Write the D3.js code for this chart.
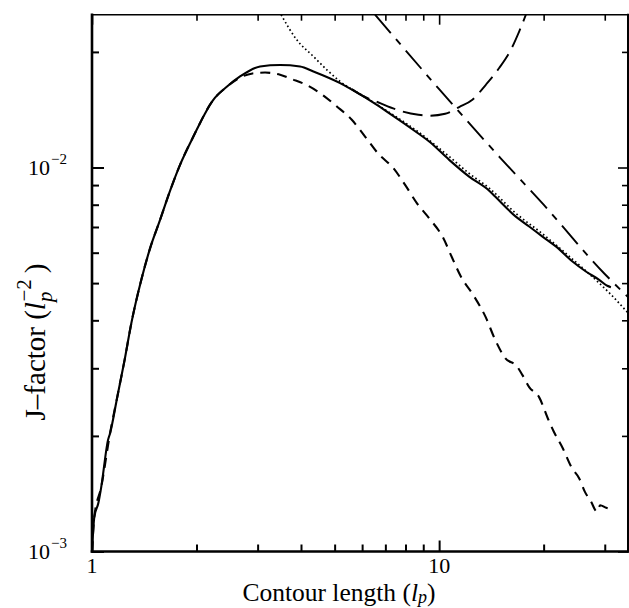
<!DOCTYPE html>
<html><head><meta charset="utf-8">
<script src="https://cdn.jsdelivr.net/npm/d3@7/dist/d3.min.js"></script>
<style>
body{margin:0;background:#fff}
svg{display:block}
text{font-family:"Liberation Serif","Times New Roman",serif;fill:#000}
</style>
</head><body>
<svg id="chart" width="629" height="608"></svg>
<script>
// ---------- data ----------
const xDomain = [1, 35];
const yDomain = [0.001, 0.025];
const xMajorTicks = [1, 10];
const xMinorTicks = [2, 3, 4, 5, 6, 7, 8, 9, 20, 30];
const yMajorTicks = [0.001, 0.01];
const yMinorTicks = [0.002, 0.003, 0.004, 0.005, 0.006, 0.007, 0.008, 0.009, 0.02];
const xTickLabels = ["1", "10"];
const yTickBase = ["10", "10"];
const yTickExp = ["\u22123", "\u22122"];

// solid curve
const solidL = [1.0, 1.0154, 1.0427, 1.0636, 1.112, 1.127, 1.178, 1.188, 1.242, 1.298, 1.387, 1.469, 1.566, 1.68, 1.793, 1.959, 2.236, 2.45, 2.67, 3.049, 3.482, 3.976, 4.343, 5.184, 6.05, 7.068, 8.815, 9.36, 10.69, 12.2, 13.94, 14.5, 16.63, 18.17, 19.85, 21.69, 24.22, 26.47, 28.91, 30.5, 31.25];
const solidJ = [0.001, 0.00123, 0.001335, 0.001475, 0.00195, 0.00203, 0.00248, 0.00258, 0.00316, 0.00393, 0.0051, 0.00615, 0.00725, 0.00872, 0.01016, 0.01204, 0.01501, 0.01625, 0.01726, 0.01833, 0.01849, 0.01833, 0.01779, 0.01659, 0.01531, 0.01399, 0.01217, 0.01169, 0.01047, 0.00947, 0.0087, 0.0084, 0.00745, 0.00702, 0.00661, 0.00623, 0.00569, 0.00536, 0.0051, 0.00492, 0.00488];

// short-dashed curve
const dashL = [1.0, 1.0154, 1.0636, 1.127, 1.188, 1.242, 1.298, 1.387, 1.469, 1.566, 1.68, 1.793, 1.959, 2.236, 2.45, 2.67, 2.9, 3.152, 3.482, 3.763, 4.11, 4.541, 5.073, 5.603, 6.118, 6.686, 7.384, 7.98, 8.625, 9.358, 10.27, 10.9, 11.55, 12.53, 13.63, 14.5, 15.5, 16.78, 17.38, 18.17, 19.42, 20.61, 21.35, 22.69, 24.12, 25.33, 26.3, 27.38, 28.48, 29.11, 30.29, 31.46];
const dashJ = [0.001, 0.00123, 0.001475, 0.00203, 0.00258, 0.00316, 0.00393, 0.0051, 0.00615, 0.00725, 0.00872, 0.01016, 0.01204, 0.01501, 0.01625, 0.01715, 0.01758, 0.01767, 0.01744, 0.01699, 0.01647, 0.01562, 0.01442, 0.01331, 0.01204, 0.01085, 0.00996, 0.00901, 0.00808, 0.00738, 0.00656, 0.00582, 0.0052, 0.00466, 0.00407, 0.00356, 0.00319, 0.00303, 0.00288, 0.00268, 0.00252, 0.00221, 0.00206, 0.00186, 0.00165, 0.00155, 0.00143, 0.00135, 0.00127, 0.00132, 0.0013, 0.00129];

// dotted curve
const dotL = [3.505, 3.89, 4.343, 4.747, 5.184, 6.05, 7.068, 8.815, 10.69, 12.2, 13.94, 16.63, 19.85, 22.66, 26.47, 28.91, 31.25, 35.0];
const dotJ = [0.025, 0.0215, 0.01946, 0.01797, 0.01675, 0.01535, 0.01405, 0.01228, 0.01068, 0.00965, 0.00884, 0.0076, 0.00672, 0.00608, 0.00538, 0.005, 0.00467, 0.00418];

// long-dash U-shaped curve
const uL = [5.6, 6.05, 6.761, 7.553, 8.716, 9.358, 10.41, 11.42, 12.47, 13.63, 14.89, 16.09, 17.0, 17.78];
const uJ = [0.0160, 0.01535, 0.01471, 0.01414, 0.01372, 0.01364, 0.0138, 0.01437, 0.01501, 0.01642, 0.01816, 0.02026, 0.0226, 0.025];

// long-short dashed straight line
const lineL = [6.54, 10, 15, 20, 30, 35];
const lineJ = [0.025, 0.0160, 0.0106, 0.0080, 0.00528, 0.0046];

// ---------- layout ----------
const mLeft = 92, mRight = 628, mTop = 14.7, mBottom = 551.5;

const svg = d3.select("#chart");
const x = d3.scaleLog().domain(xDomain).range([mLeft, mRight]);
const y = d3.scaleLog().domain(yDomain).range([mBottom, mTop]);

svg.append("defs").append("clipPath").attr("id", "clip")
  .append("rect").attr("x", mLeft).attr("y", mTop)
  .attr("width", mRight - mLeft).attr("height", mBottom - mTop);

const zip = (a, b) => a.map((v, i) => [v, b[i]]);
const lineGen = d3.line().x(d => x(d[0])).y(d => y(d[1])).curve(d3.curveMonotoneX);

const plot = svg.append("g").attr("clip-path", "url(#clip)");
function drawSeries(L, J, dash, w) {
  plot.append("path").datum(zip(L, J))
    .attr("d", lineGen).attr("fill", "none").attr("stroke", "#000")
    .attr("stroke-width", w).attr("stroke-dasharray", dash)
    .attr("stroke-linejoin", "round");
}
drawSeries(lineL, lineJ, "24,8,7,8", 1.9);
drawSeries(uL, uJ, "20,8", 1.9);
drawSeries(dotL, dotJ, "1.6,2.6", 1.7);
drawSeries(dashL, dashJ, "10,7", 2.1);
drawSeries(solidL, solidJ, null, 2.1);

// ---------- axes (ticks inward on all four sides) ----------
function tickAxis(axisFn, scale, vals, size, tr, sw) {
  const g = svg.append("g").attr("transform", tr)
    .call(axisFn(scale).tickValues(vals).tickSize(-size).tickFormat(""));
  g.select(".domain").remove();
  g.selectAll("line").attr("stroke", "#000").attr("stroke-width", sw);
}
tickAxis(d3.axisBottom, x, xMajorTicks, 11, `translate(0,${mBottom})`, 2);
tickAxis(d3.axisBottom, x, xMinorTicks, 7, `translate(0,${mBottom})`, 2);
tickAxis(d3.axisTop, x, xMajorTicks, 10, `translate(0,${mTop})`, 1.6);
tickAxis(d3.axisTop, x, xMinorTicks, 6, `translate(0,${mTop})`, 1.6);
tickAxis(d3.axisLeft, y, yMajorTicks, 12, `translate(${mLeft},0)`, 2);
tickAxis(d3.axisLeft, y, yMinorTicks, 7, `translate(${mLeft},0)`, 2);
tickAxis(d3.axisRight, y, yMajorTicks, 10, `translate(${mRight},0)`, 1.6);
tickAxis(d3.axisRight, y, yMinorTicks, 6, `translate(${mRight},0)`, 1.6);

// frame
const frame = svg.append("g").attr("stroke", "#000").attr("stroke-linecap", "square");
frame.append("line").attr("x1", mLeft).attr("x2", mLeft).attr("y1", mTop).attr("y2", mBottom).attr("stroke-width", 2.6);
frame.append("line").attr("x1", mLeft).attr("x2", mRight).attr("y1", mBottom).attr("y2", mBottom).attr("stroke-width", 2.6);
frame.append("line").attr("x1", mLeft).attr("x2", mRight).attr("y1", mTop).attr("y2", mTop).attr("stroke-width", 1.6);
frame.append("line").attr("x1", mRight).attr("x2", mRight).attr("y1", mTop).attr("y2", mBottom).attr("stroke-width", 2);

// x tick labels
xMajorTicks.forEach((v, i) => {
  svg.append("text").attr("x", x(v)).attr("y", 573)
    .attr("text-anchor", "middle").attr("font-size", 22).text(xTickLabels[i]);
});
// y tick labels
yMajorTicks.forEach((v, i) => {
  const t = svg.append("text").attr("x", 67).attr("y", y(v) + 7)
    .attr("text-anchor", "end").attr("font-size", 22);
  t.append("tspan").text(yTickBase[i]);
  t.append("tspan").attr("font-size", 15).attr("dy", -11).attr("dx", 1).text(yTickExp[i]);
});

// axis titles
const xt = svg.append("text").attr("x", 339).attr("y", 601)
  .attr("text-anchor", "middle").attr("font-size", 25.5);
xt.append("tspan").text("Contour length (");
xt.append("tspan").attr("font-style", "italic").text("l");
xt.append("tspan").attr("font-style", "italic").attr("font-size", 18).attr("dy", 2).text("p");
xt.append("tspan").attr("dy", -2).text(")");

const yt = svg.append("text").attr("transform", "translate(45,342) rotate(-90)")
  .attr("text-anchor", "middle").attr("font-size", 29);
yt.append("tspan").text("J\u2013factor (");
yt.append("tspan").attr("font-style", "italic").text("l");
yt.append("tspan").attr("font-style", "italic").attr("font-size", 21).attr("dy", 7).text("p");
yt.append("tspan").attr("font-size", 21).attr("dx", -10).attr("dy", -21).text("\u22122");
yt.append("tspan").attr("dx", 6).attr("dy", 14).text(")");
</script>
</body></html>
